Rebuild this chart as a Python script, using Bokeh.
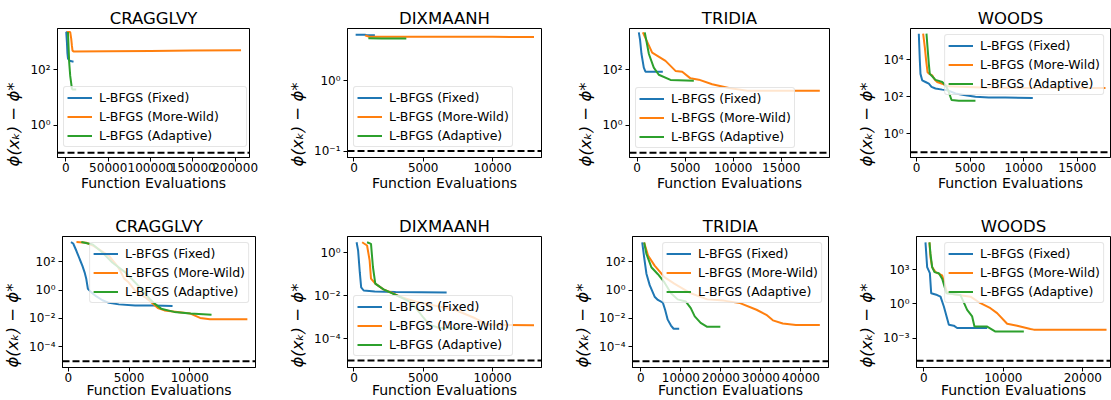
import math
from bokeh.plotting import figure
from bokeh.layouts import row, column
from bokeh.models import (Range1d, FixedTicker, CustomJSTickFormatter, Span,
                          Legend, LegendItem)
from bokeh.embed import file_html
from bokeh.resources import INLINE

titles = ["CRAGGLVY", "DIXMAANH", "TRIDIA", "WOODS"]
series_labels = ["L-BFGS (Fixed)", "L-BFGS (More-Wild)", "L-BFGS (Adaptive)"]
colors = ["#1f77b4", "#ff7f0e", "#2ca02c"]
thresholds = [0.1, 0.1, 0.1, 0.1, 1e-5, 1e-5, 1e-5, 1e-5]
x_label = "Function Evaluations"
y_label = "ϕ(xₖ) − ϕ*"

# ---------------- Row 1 ----------------
cr1_fix_x = [0, 400, 1200, 1800, 2500, 4500, 9000]
cr1_fix_y = [2300, 2300, 1000, 400, 250, 210, 195]
cr1_mw_x = [1200, 5100, 6300, 7100, 7800, 9000, 50000, 100000, 150000, 207000]
cr1_mw_y = [2300, 2300, 1300, 740, 490, 460, 470, 480, 495, 510]
cr1_ad_x = [2400, 3100, 3900, 5100, 7100, 7800, 12200]
cr1_ad_y = [2300, 740, 180, 60, 21, 19.5, 19.5]

dx1_fix_x = [120, 800, 900, 1510]
dx1_fix_y = [4.5, 4.5, 4.4, 4.4]
dx1_mw_x = [800, 1110, 5000, 10000, 13000]
dx1_mw_y = [4.4, 4.2, 4.2, 4.2, 4.15]
dx1_ad_x = [1040, 2000, 3780]
dx1_ad_y = [4.0, 3.95, 3.95]

tr1_fix_x = [170, 300, 450, 690, 860, 2670]
tr1_fix_y = [2240, 1200, 370, 120, 85, 85]
tr1_mw_x = [590, 1560, 2950, 3990, 4690, 5550, 6420, 7810, 9550, 11460, 19020]
tr1_mw_y = [2240, 417, 209, 91, 85, 49, 44, 30, 22, 17.4, 17.4]
tr1_ad_x = [790, 1220, 1730, 2250, 3470, 5900]
tr1_ad_y = [2240, 370, 120, 66, 43, 40]

wd1_fix_x = [215, 310, 370, 530, 840, 1150, 1400, 1770, 2400, 2860, 3640, 4570, 5500, 6740, 8300, 10850]
wd1_fix_y = [251000, 8900, 1700, 760, 620, 500, 339, 275, 240, 224, 148, 120, 100, 91, 89, 85]
wd1_mw_x = [620, 780, 900, 1030, 1210, 1460, 1710, 1930, 2400, 2860, 6000, 10000, 14000, 17630]
wd1_mw_y = [251000, 44700, 8900, 2090, 1700, 1410, 810, 620, 500, 363, 316, 300, 295, 295]
wd1_ad_x = [930, 1030, 1150, 1240, 1460, 1770, 2080, 2400, 2710, 2950, 3110, 3270, 3950, 5500]
wd1_ad_y = [251000, 44700, 5900, 1700, 1260, 810, 710, 620, 417, 224, 120, 66, 60, 60]

# ---------------- Row 2 ----------------
cr2_fix_x = [217, 400, 670, 940, 1160, 1340, 1480, 1610, 1880, 2280, 2810, 3350, 4160, 5500, 7100, 8580]
cr2_fix_y = [2340, 1860, 550, 145, 50, 17.4, 5.9, 1.2, 0.71, 0.37, 0.19, 0.126, 0.098, 0.083, 0.083, 0.076]
cr2_mw_x = [670, 1480, 2010, 3350, 4100, 4300, 4600, 4960, 5500, 6300, 6830, 7370, 7910, 8980, 10050, 10850, 11660, 14740]
cr2_mw_y = [2340, 2090, 1350, 251, 40, 20, 6.3, 3.5, 0.91, 0.32, 0.14, 0.055, 0.037, 0.029, 0.022, 0.011, 0.0089, 0.0089]
cr2_ad_x = [1070, 2010, 2810, 3620, 4690, 5760, 6700, 7100, 7640, 8710, 10050, 11790]
cr2_ad_y = [2340, 1580, 427, 85, 17.4, 2.0, 0.24, 0.11, 0.049, 0.029, 0.022, 0.0186]

dx2_fix_x = [190, 300, 420, 520, 700, 1500, 3000, 6690]
dx2_fix_y = [3.1, 1.26, 0.126, 0.025, 0.0178, 0.0158, 0.0151, 0.0145]
dx2_mw_x = [590, 945, 1130, 1230, 1540, 2130, 2840, 3310, 4490, 6150, 7330, 8750, 9690, 13000]
dx2_mw_y = [3.1, 2.2, 0.45, 0.063, 0.037, 0.02, 0.0129, 0.0091, 0.0054, 0.0032, 0.0022, 0.00091, 0.00045, 0.00043]
dx2_ad_x = [945, 1230, 1370, 1540, 2130, 3310, 4020, 4490, 4960, 5440, 6150, 7800]
dx2_ad_y = [3.1, 2.6, 0.22, 0.037, 0.02, 0.0091, 0.0054, 0.0026, 0.0011, 0.00046, 0.00032, 0.00032]

tr2_fix_x = [330, 810, 1380, 2200, 3430, 4250, 5480, 6050, 6700, 7520, 8180, 9570]
tr2_fix_y = [2190, 200, 14, 2.2, 0.34, 0.2, 0.13, 0.041, 0.0083, 0.0032, 0.0019, 0.0019]
tr2_mw_x = [810, 1790, 3430, 5890, 8340, 12470, 16580, 20690, 24790, 28900, 31360, 33000, 35470, 38750, 44730]
tr2_mw_y = [2190, 263, 52, 8.1, 2.8, 0.59, 0.22, 0.18, 0.12, 0.041, 0.018, 0.0074, 0.0044, 0.0035, 0.0035]
tr2_ad_x = [810, 1380, 2610, 4250, 5890, 7520, 9190, 11240, 12470, 13460, 14940, 16580, 19860]
tr2_ad_y = [2190, 339, 40, 12.9, 3.4, 0.59, 0.22, 0.155, 0.054, 0.014, 0.0049, 0.0026, 0.0026]

wd2_fix_x = [210, 420, 760, 930, 1680, 2100, 2520, 3150, 3770, 4190, 7970]
wd2_fix_y = [251000, 1700, 500, 8.5, 6.0, 4.3, 0.59, 0.0148, 0.0123, 0.0076, 0.0076]
wd2_mw_x = [710, 840, 1050, 1470, 2310, 2940, 5870, 7130, 8380, 9220, 10480, 11740, 13410, 13830, 22980]
wd2_mw_y = [251000, 12600, 1700, 620, 316, 8.5, 4.3, 1.15, 0.42, 0.155, 0.018, 0.0123, 0.0063, 0.0055, 0.0055]
wd2_ad_x = [710, 840, 1050, 1340, 1890, 2310, 2850, 4610, 5450, 6080, 6370, 7970, 9010, 12580]
wd2_ad_y = [251000, 24500, 1700, 620, 500, 162, 8.5, 6.0, 0.30, 0.079, 0.0102, 0.0102, 0.0037, 0.0037]

# tick positions
xticks = [
    [0, 50000, 100000, 150000, 200000], [0, 5000, 10000], [0, 5000, 10000, 15000], [0, 5000, 10000, 15000],
    [0, 5000, 10000], [0, 5000, 10000], [0, 10000, 20000, 30000, 40000], [0, 10000, 20000],
]
yticks = [
    [1, 100], [0.1, 1], [1, 100], [1, 100, 10000],
    [1e-4, 1e-2, 1, 100], [1e-4, 1e-2, 1], [1e-4, 1e-2, 1, 100], [1e-3, 1, 1000],
]

series = [
    [(cr1_fix_x, cr1_fix_y), (cr1_mw_x, cr1_mw_y), (cr1_ad_x, cr1_ad_y)],
    [(dx1_fix_x, dx1_fix_y), (dx1_mw_x, dx1_mw_y), (dx1_ad_x, dx1_ad_y)],
    [(tr1_fix_x, tr1_fix_y), (tr1_mw_x, tr1_mw_y), (tr1_ad_x, tr1_ad_y)],
    [(wd1_fix_x, wd1_fix_y), (wd1_mw_x, wd1_mw_y), (wd1_ad_x, wd1_ad_y)],
    [(cr2_fix_x, cr2_fix_y), (cr2_mw_x, cr2_mw_y), (cr2_ad_x, cr2_ad_y)],
    [(dx2_fix_x, dx2_fix_y), (dx2_mw_x, dx2_mw_y), (dx2_ad_x, dx2_ad_y)],
    [(tr2_fix_x, tr2_fix_y), (tr2_mw_x, tr2_mw_y), (tr2_ad_x, tr2_ad_y)],
    [(wd2_fix_x, wd2_fix_y), (wd2_mw_x, wd2_mw_y), (wd2_ad_x, wd2_ad_y)],
]

# layout: (x_range, y_range, fig width, border left, border right, legend location, legend label width)
layout_cfg = [
    ((-9930, 217000), (0.068, 3090), 285, 57, 36, (6, 10), 144),
    ((-467, 13540), (0.081, 5.5), 285, 58, 29, (6, 10), 20),
    ((-800, 20030), (0.068, 3090), 282, 59, 23, (6, 9), 20),
    ((-560, 18100), (0.052, 479000), 259, 58, 1, "top_right", 20),
    ((-480, 15410), (3.6e-6, 5750), 285, 57, 30, "top_right", 20),
    ((-467, 13540), (4.7e-6, 5.75), 285, 58, 29, (6, 11), 20),
    ((-2100, 46900), (3.6e-6, 5750), 282, 59, 24, "top_right", 20),
    ((-920, 23480), (2.6e-6, 832000), 259, 64, 1, "top_right", 20),
]
# (fig height, border top, border bottom, x-label standoff, y-label end padding)
row_cfg = [(198, 28, 41, 0, 12), (202, 38, 32, -3, 9)]

FONT = "DejaVu Sans"
log_fmt = CustomJSTickFormatter(code="""
const e = Math.round(Math.log10(tick));
const m = {"-":"⁻","0":"⁰","1":"¹","2":"²","3":"³","4":"⁴","5":"⁵","6":"⁶","7":"⁷","8":"⁸","9":"⁹"};
let s = "";
for (const c of String(e)) { s += m[c]; }
return "10" + s;
""")
int_fmt = CustomJSTickFormatter(code="return tick.toFixed(0);")

figs = []
for i in range(8):
    r = i // 4
    (xr, yr, w, bl, br, legloc, lw) = layout_cfg[i]
    (h, bt, bb, xls, ypad) = row_cfg[r]
    p = figure(width=w, height=h, x_range=Range1d(*xr), y_range=Range1d(*yr),
               y_axis_type="log", output_backend="svg", toolbar_location=None,
               title=titles[i % 4])
    p.min_border_left = bl
    p.min_border_right = br
    p.min_border_top = bt
    p.min_border_bottom = bb
    p.background_fill_color = "white"
    p.border_fill_color = "white"
    p.outline_line_color = "black"
    p.outline_line_width = 1
    p.outline_line_alpha = 1
    p.xgrid.visible = False
    p.ygrid.visible = False

    p.title.text_font = FONT
    p.title.text_font_size = "16.5px"
    p.title.text_font_style = "normal"
    p.title.align = "center"
    p.title.standoff = 2
    p.title.text_color = "black"

    p.xaxis.ticker = FixedTicker(ticks=xticks[i], minor_ticks=[])
    p.yaxis.ticker = FixedTicker(ticks=yticks[i], minor_ticks=[])
    p.xaxis.formatter = int_fmt
    p.yaxis.formatter = log_fmt
    for ax in (p.xaxis, p.yaxis):
        ax.axis_line_color = "black"
        ax.major_tick_line_color = "black"
        ax.major_tick_out = 4
        ax.major_tick_in = 0
        ax.minor_tick_out = 0
        ax.minor_tick_in = 0
        ax.major_label_text_font = FONT
        ax.major_label_text_font_size = "12px"
        ax.major_label_text_color = "black"
        ax.axis_label_text_font = FONT
        ax.axis_label_text_color = "black"
    p.xaxis.major_label_standoff = 1
    p.yaxis.major_label_standoff = 3
    p.xaxis.axis_label = x_label
    p.xaxis.axis_label_text_font_size = "14px"
    p.xaxis.axis_label_text_font_style = "normal"
    p.xaxis.axis_label_standoff = xls
    p.yaxis.axis_label = y_label + "\u00a0" * ypad
    p.yaxis.axis_label_text_font_size = "16.5px"
    p.yaxis.axis_label_text_font_style = "italic"
    p.yaxis.axis_label_standoff = 4

    thr = Span(location=thresholds[i], dimension="width", line_color="black",
               line_dash="7 3", line_width=2)
    p.add_layout(thr)

    items = []
    for k in range(3):
        xs, ys = series[i][k]
        rr = p.line(xs, ys, line_color=colors[k], line_width=2)
        items.append(LegendItem(label=series_labels[k], renderers=[rr]))
    leg = Legend(items=items, location=legloc)
    leg.label_text_font = FONT
    leg.label_text_font_size = "12.5px"
    leg.label_text_color = "black"
    leg.label_height = 13
    leg.label_width = lw
    leg.glyph_height = 13
    leg.glyph_width = 25
    leg.label_standoff = 7
    leg.spacing = 4
    leg.padding = 3
    leg.margin = 6
    leg.background_fill_color = "white"
    leg.background_fill_alpha = 0.8
    leg.border_line_color = "#cccccc"
    leg.border_line_width = 1
    try:
        leg.border_radius = 3
    except Exception:
        pass
    p.add_layout(leg)
    figs.append(p)

layout = column(row(*figs[:4]), row(*figs[4:]))
open("out.html", "w").write(file_html(layout, INLINE))
